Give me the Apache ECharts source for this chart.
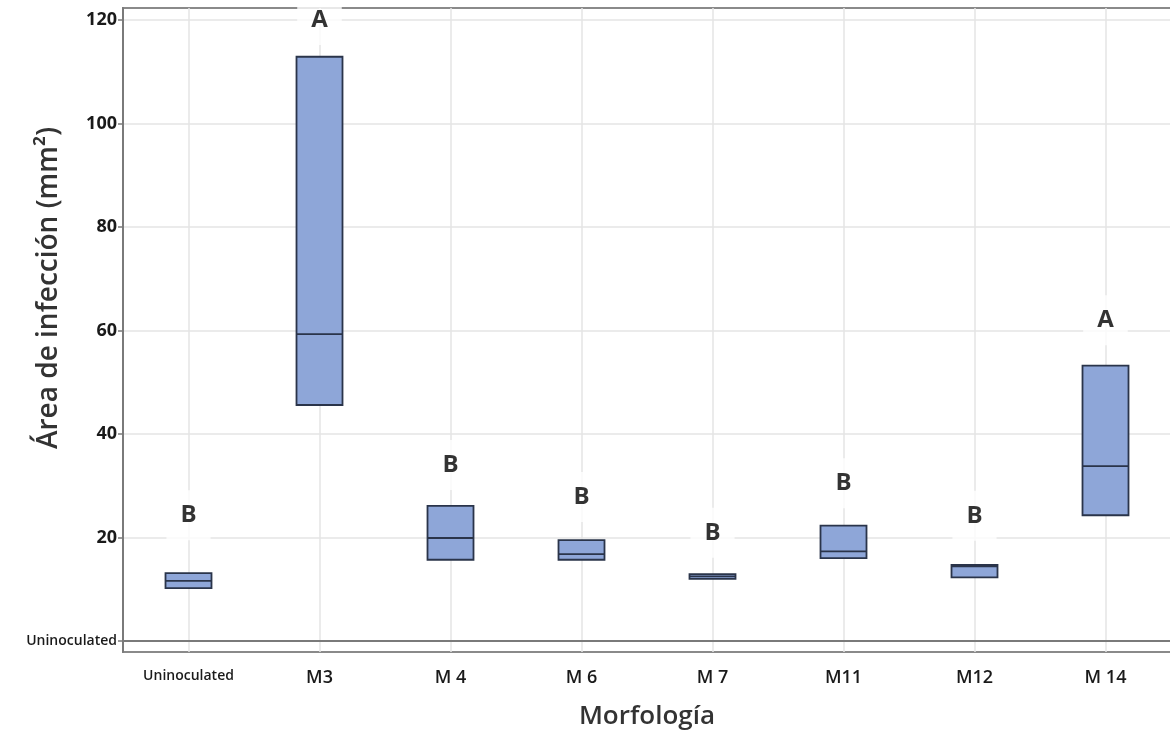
<!DOCTYPE html>
<html><head><meta charset="utf-8">
<script src="https://cdn.jsdelivr.net/npm/echarts@6/dist/echarts.min.js"></script>
<style>html,body{margin:0;padding:0;background:#fff}#c{width:1170px;height:740px}</style>
</head><body><div id="c"></div>
<script>
const categories = ['Uninoculated','M3','M 4','M 6','M 7','M11','M12','M 14'];
const q1     = [10.2, 45.6, 15.7, 15.7, 12.0, 16.0, 12.3, 24.3];
const median = [11.6, 59.3, 19.9, 16.8, 12.5, 17.3, 14.4, 33.8];
const q3     = [13.1, 112.9, 26.1, 19.5, 12.9, 22.3, 14.7, 53.2];
const letters = ['B','A','B','B','B','B','B','A'];
const letterY = [24.3, 120, 34, 27.8, 20.9, 30.5, 24.2, 62];
const yTicks = [0, 20, 40, 60, 80, 100, 120];
const yTickLabels = ['Uninoculated','20','40','60','80','100','120'];
const yTitle = 'Área de infección (mm²)';

const boxData = categories.map((c,i)=>[q1[i], q1[i], median[i], q3[i], q3[i]]);
const font = 'Open Sans';
const chart = echarts.init(document.getElementById('c'));
chart.setOption({
  animation:false,
  backgroundColor:'#fff',
  grid:{left:123, top:8, width:1048, bottom:88, outerBoundsMode:'none', containLabel:false,
        show:true, borderColor:'#8a8a8a', borderWidth:2, backgroundColor:'transparent'},
  graphic:[{type:'text', x:49, y:288, rotation:Math.PI/2,
    style:{text:yTitle, fontFamily:font, fontSize:28, fontWeight:600, fill:'#333',
           align:'center', verticalAlign:'middle'}}],
  xAxis:{
    type:'category', data:categories, boundaryGap:true,
    name:'Morfología', nameLocation:'middle', nameGap:52,
    nameTextStyle:{fontFamily:font, fontSize:26, color:'#333', fontWeight:600},
    axisLine:{lineStyle:{color:'#7a7a7a', width:2}},
    axisTick:{alignWithLabel:true, length:5, lineStyle:{color:'#7a7a7a', width:1.5}},
    axisLabel:{interval:0, fontFamily:font, fontSize:18, fontWeight:600, color:'#1a1a1a', margin:17,
      rich:{s:{fontFamily:font, fontSize:14, fontWeight:600, color:'#1a1a1a'}},
      formatter:v=> v==='Uninoculated' ? '{s|'+v+'}' : v},
    splitLine:{show:true, alignWithLabel:true, lineStyle:{color:'#e4e4e4', width:1.5}}
  },
  yAxis:{
    type:'value', min:-2.13, max:122.32,
    axisLine:{show:true, lineStyle:{color:'#7a7a7a', width:2}},
    axisTick:{show:true, length:5, customValues:yTicks, lineStyle:{color:'#7a7a7a', width:1.5}},
    axisLabel:{fontFamily:font, fontSize:18, fontWeight:700, color:'#1a1a1a', margin:6,
      customValues:yTicks,
      rich:{s:{fontFamily:font, fontSize:14, fontWeight:600, color:'#1a1a1a'}},
      formatter:v=>{const i=yTicks.indexOf(v); const t=i>=0?yTickLabels[i]:String(v); return v===0?'{s|'+t+'}':t;}},
    splitLine:{show:true, customValues:yTicks, lineStyle:{color:'#e4e4e4', width:1.5}}
  },
  series:[
    {type:'boxplot', data:boxData, boxWidth:[46,46], z:3,
     itemStyle:{color:'#8ea6d8', borderColor:'#2a344a', borderWidth:1.8}},
    {type:'scatter', symbolSize:0, z:5,
     data:categories.map((c,i)=>[c, letterY[i]]),
     label:{show:true, position:'inside', formatter:p=>letters[p.dataIndex],
       fontFamily:font, fontSize:24, fontWeight:700, color:'#000',
       backgroundColor:'#fff', padding:[13,14]}}
  ]
});
</script></body></html>
